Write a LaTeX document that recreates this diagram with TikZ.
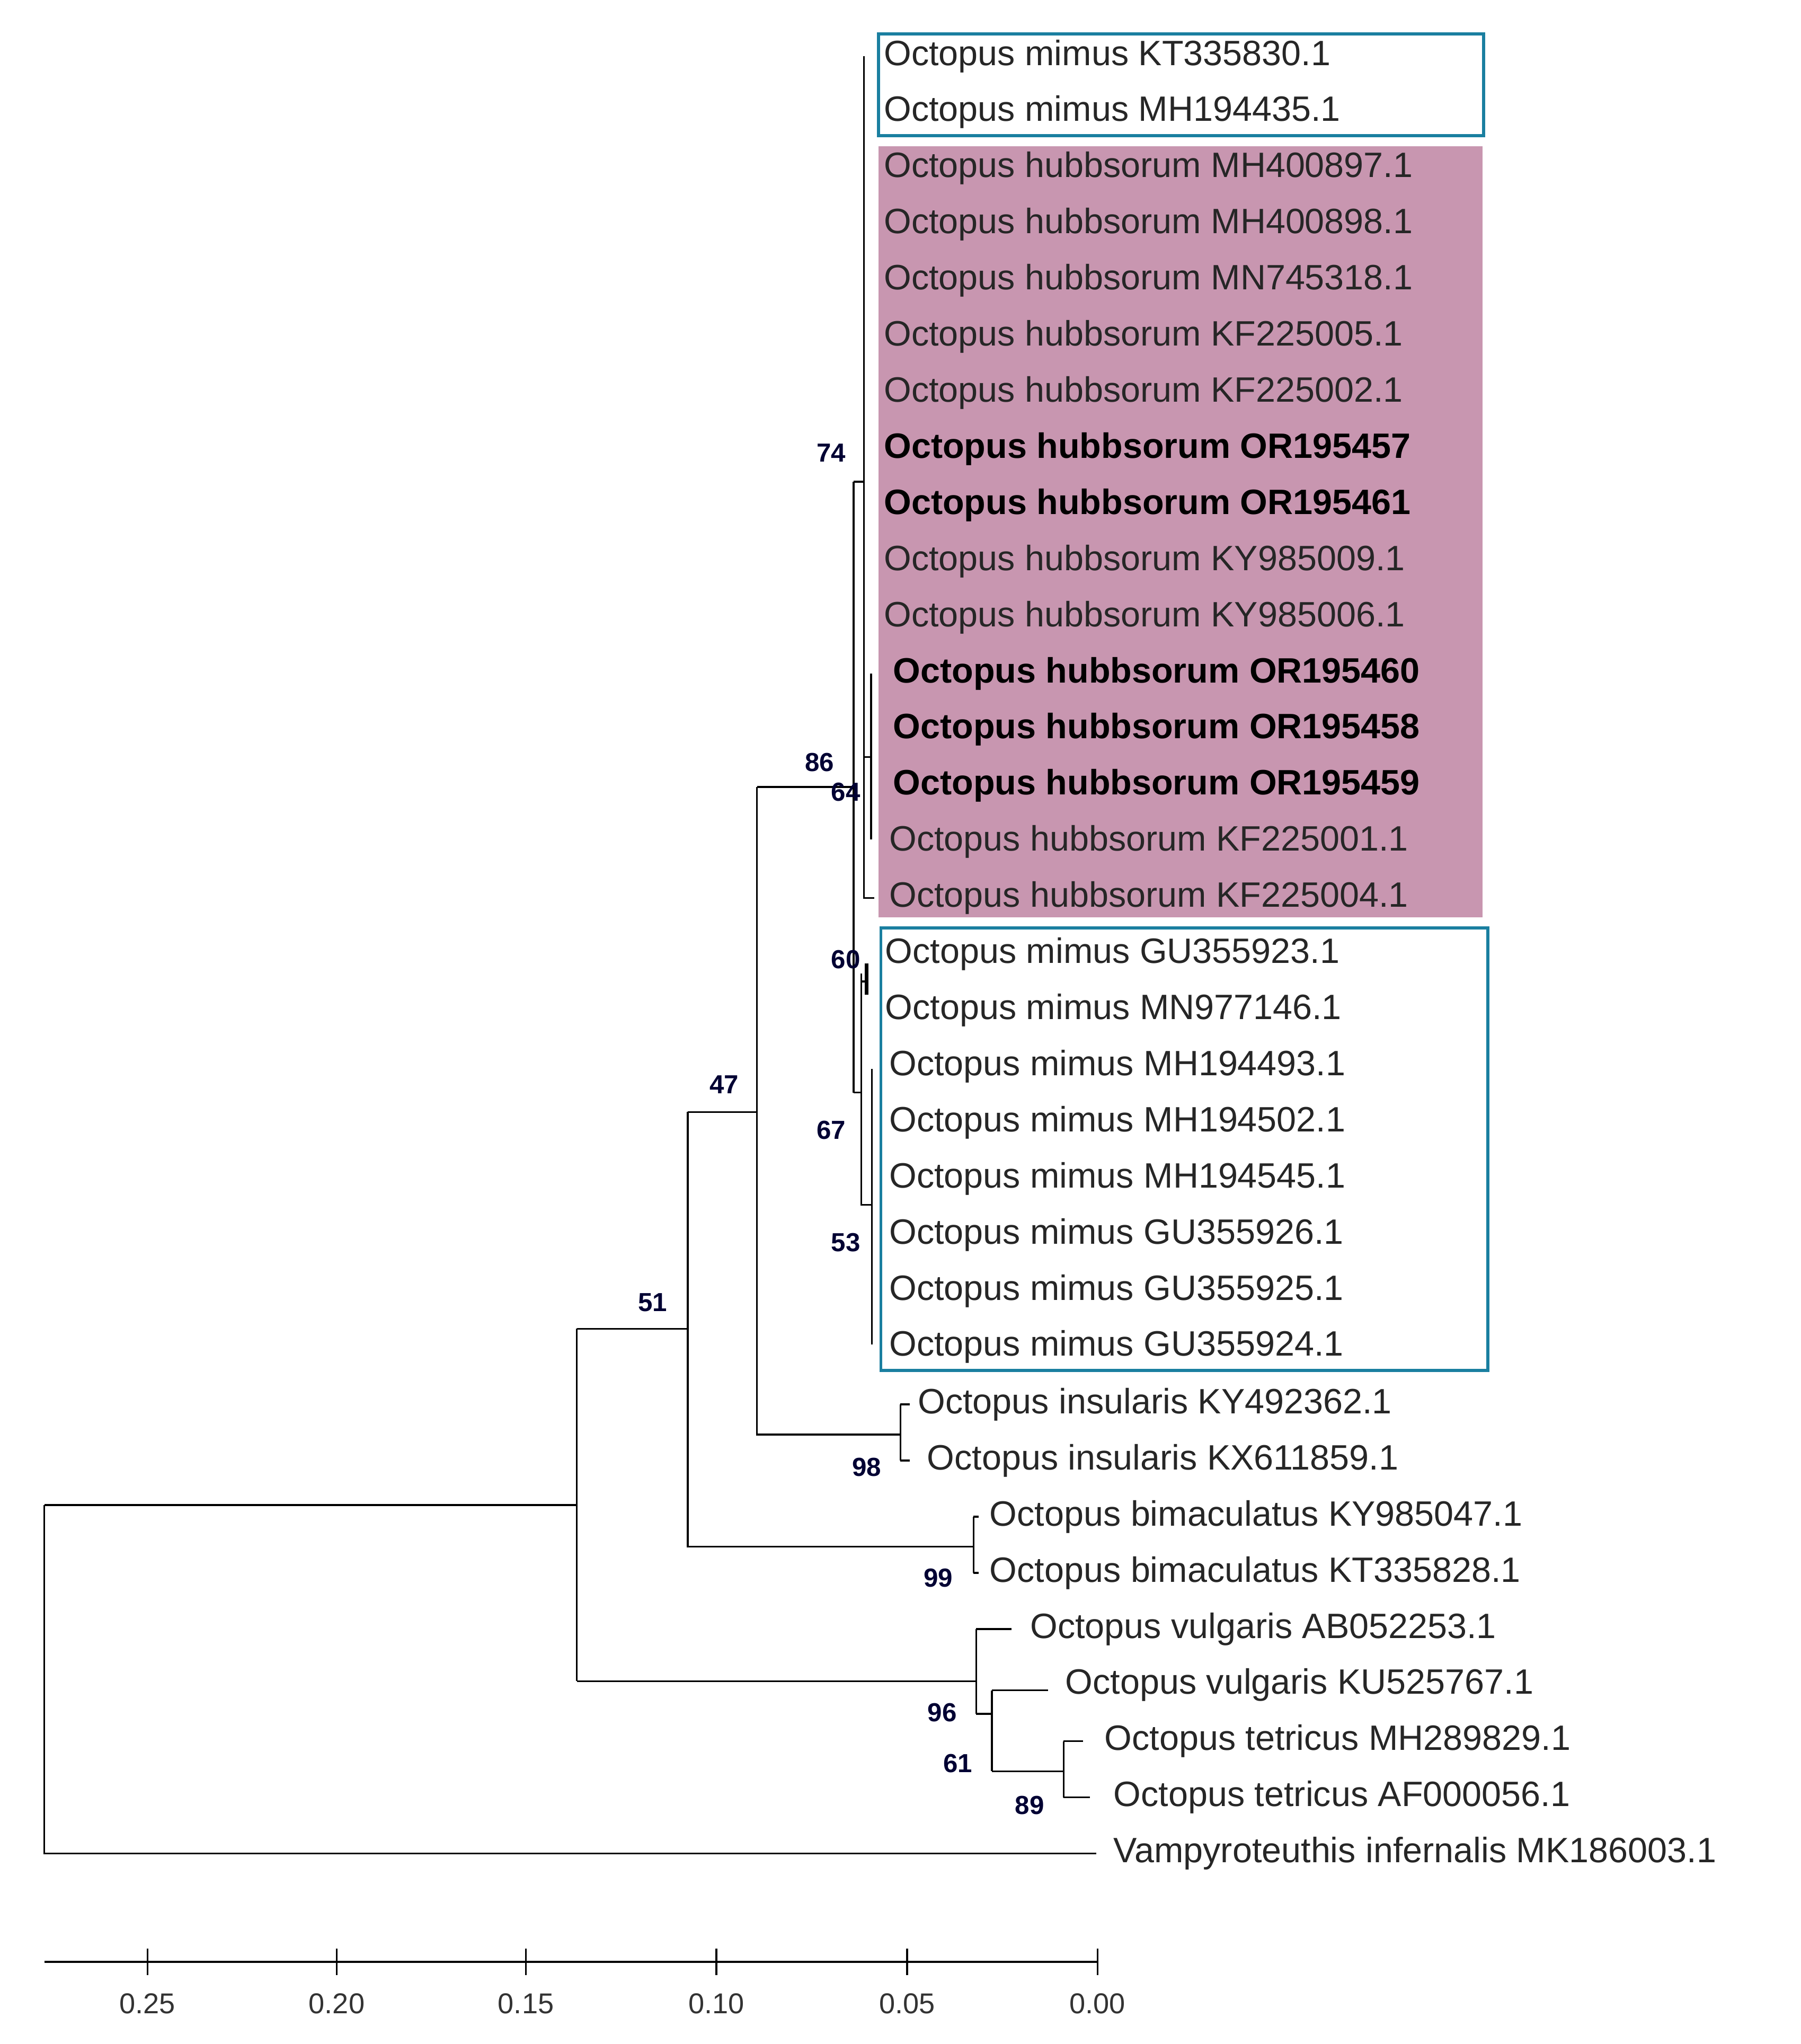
\documentclass[tikz,border=0pt]{standalone}
\usepackage{fontspec}
\setmainfont{Liberation Sans}
\begin{document}
\begin{tikzpicture}[x=0.5pt,y=-0.5pt,
  br/.style={line width=0.7pt,black},
  lf/.style={anchor=west,inner sep=0pt,font=\fontsize{13.5}{15}\selectfont,text=black!85},
  lfb/.style={lf,font=\fontsize{13.5}{15}\selectfont\bfseries,text=black},
  bs/.style={inner sep=0pt,font=\fontsize{10}{12}\selectfont\bfseries,text=black!80!blue},
  tk/.style={inner sep=0pt,font=\fontsize{11}{13}\selectfont,text=black!80}]
\definecolor{boxblue}{HTML}{1A7FA0}
\definecolor{pink}{HTML}{C896B0}
\useasboundingbox (0,0) rectangle (1380,1566);
% boxes
\fill[pink] (673,112) rectangle (1136,703);
\draw[boxblue,line width=1.2pt] (673,26) rectangle (1137,104);
\draw[boxblue,line width=1.2pt] (675,711) rectangle (1140,1050);
% leaf labels
\foreach \y/\t/\x in {43/KT335830.1/677,86/MH194435.1/677}
  \node[lf] at (\x,\y) {Octopus mimus \t};
\foreach \y/\t in {129/MH400897.1,172/MH400898.1,215/MN745318.1,258/KF225005.1,301/KF225002.1,430/KY985009.1,473/KY985006.1}
  \node[lf] at (677,\y) {Octopus hubbsorum \t};
\node[lfb] at (677,344) {Octopus hubbsorum OR195457};
\node[lfb] at (677,387) {Octopus hubbsorum OR195461};
\node[lfb] at (684,516) {Octopus hubbsorum OR195460};
\node[lfb] at (684,559) {Octopus hubbsorum OR195458};
\node[lfb] at (684,602) {Octopus hubbsorum OR195459};
\node[lf] at (681,645) {Octopus hubbsorum KF225001.1};
\node[lf] at (681,688) {Octopus hubbsorum KF225004.1};
\node[lf] at (678,731) {Octopus mimus GU355923.1};
\node[lf] at (678,774) {Octopus mimus MN977146.1};
\foreach \y/\t in {817/MH194493.1,860/MH194502.1,903/MH194545.1,946/GU355926.1,989/GU355925.1,1032/GU355924.1}
  \node[lf] at (681,\y) {Octopus mimus \t};
\node[lf] at (703,1076) {Octopus insularis KY492362.1};
\node[lf] at (710,1119) {Octopus insularis KX611859.1};
\node[lf] at (758,1162) {Octopus bimaculatus KY985047.1};
\node[lf] at (758,1205) {Octopus bimaculatus KT335828.1};
\node[lf] at (789,1248) {Octopus vulgaris AB052253.1};
\node[lf] at (816,1291) {Octopus vulgaris KU525767.1};
\node[lf] at (846,1334) {Octopus tetricus MH289829.1};
\node[lf] at (853,1377) {Octopus tetricus AF000056.1};
\node[lf] at (853,1420) {Vampyroteuthis infernalis MK186003.1};
% tree
\draw[br] (34,1153) -- (442,1153);
\draw[br] (442,1288) -- (442,1018);
\draw[br] (34,1153) |- (840,1420);
% 51 clade
\draw[br] (442,1018) -- (527,1018);
\draw[br] (527,852) -- (527,1185) -- (746,1185);
\draw[br] (746,1162) -- (746,1205);
\draw[br] (746,1162) -- (750,1162); \draw[br] (746,1205) -- (750,1205);
% 47 clade
\draw[br] (527,852) -- (580,852);
\draw[br] (580,603) -- (580,1099) -- (690,1099);
\draw[br] (690,1076) -- (690,1119);
\draw[br] (690,1076) -- (697,1076); \draw[br] (690,1119) -- (697,1119);
% 86 clade
\draw[br] (580,603) -- (654,603);
\draw[br] (654,369) -- (654,837);
\draw[br] (654,369) -- (662,369);
\draw[br] (662,43) -- (662,688) -- (670,688);
\draw[br] (662,580) -- (667.5,580);
\draw[br] (667.5,516) -- (667.5,643);
\draw[br] (654,837) -- (660,837);
\draw[br] (660,746) -- (660,923) -- (668,923);
\draw[br] (660,752) -- (664,752);
\draw[line width=1.4pt] (664,738) -- (664,762);
\draw[br] (668,819) -- (668,1030);
% vulgaris clade
\draw[br] (442,1288) -- (748,1288);
\draw[br] (748,1248) -- (748,1313);
\draw[br] (748,1248) -- (775,1248);
\draw[br] (748,1313) -- (760,1313);
\draw[br] (760,1295) -- (760,1357);
\draw[br] (760,1295) -- (803,1295);
\draw[br] (760,1357) -- (815,1357);
\draw[br] (815,1334) -- (815,1377);
\draw[br] (815,1334) -- (830,1334); \draw[br] (815,1377) -- (835,1377);
% bootstrap values
\foreach \x/\y/\t in {628/584/86,637/347/74,648/607/64,648/735/60,637/866/67,648/952/53,555/831/47,500/998/51,664/1124/98,719/1209/99,722/1312/96,734/1351/61,789/1383/89}
  \node[bs] (b\t) at (\x,\y) {\t};
% axis
\draw[br] (34,1503) -- (841,1503);
\foreach \x/\t in {113/0.25,258/0.20,403/0.15,549/0.10,695/0.05,841/0.00}{
  \draw[br] (\x,1493) -- (\x,1513);
  \node[tk] at (\x,1535) {\t};}
\end{tikzpicture}
\end{document}
